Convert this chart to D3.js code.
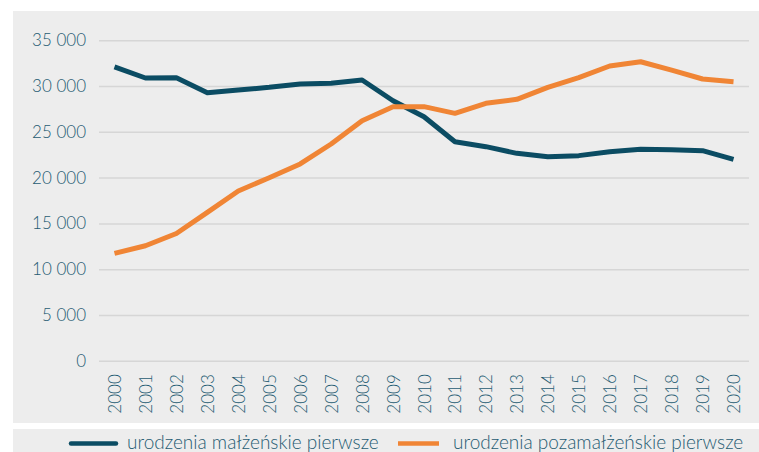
<!DOCTYPE html>
<html><head><meta charset="utf-8">
<script src="https://cdn.jsdelivr.net/npm/d3@7"></script>
<style>
body{margin:0;background:#fff;}
text{font-family:Lato,"Open Sans",sans-serif;font-weight:300;}
</style></head>
<body><svg id="c" width="759" height="452"></svg>
<script>
const years = ["2000","2001","2002","2003","2004","2005","2006","2007","2008","2009","2010","2011","2012","2013","2014","2015","2016","2017","2018","2019","2020"];
const marital = [32100,30880,30920,29280,29570,29860,30230,30300,30660,28400,26650,23920,23380,22650,22290,22400,22830,23090,23050,22940,22000];
const nonMarital = [11730,12560,13900,16200,18540,19990,21490,23670,26220,27750,27750,27020,28120,28550,29860,30920,32190,32660,31750,30770,30480];
const yTicks = [0,5000,10000,15000,20000,25000,30000,35000];
const seriesNames = ["urodzenia małżeńskie pierwsze","urodzenia pozamałżeńskie pierwsze"];
const colors = ["#0b4c63","#f08535"];

const svg = d3.select("#c");
svg.append("rect").attr("x",13).attr("y",11).attr("width",746).attr("height",412).attr("fill","#ededed");
svg.append("rect").attr("x",13).attr("y",429).attr("width",746).attr("height",23).attr("fill","#ededed");

const x = d3.scaleBand().domain(years).range([99,749]);
const y = d3.scaleLinear().domain([0,35000]).range([360.7,40.3]);
const fmt = v => v===0 ? "0" : d3.format(",")(v).replace(/,/g," ");
const textColor = "#1f5b72";

const yAxis = svg.append("g").attr("transform","translate(99,0)")
  .call(d3.axisLeft(y).tickValues(yTicks).tickFormat(fmt).tickSize(-650).tickPadding(13));
yAxis.select(".domain").remove();
yAxis.selectAll("line").attr("stroke","#d6d6d6").attr("stroke-width",1.5);
yAxis.selectAll("text").attr("fill",textColor).style("font-size","17px").style("font-family","Lato").style("font-weight","300");

const xAxis = svg.append("g").attr("transform","translate(0,360.7)")
  .call(d3.axisBottom(x).tickSize(0).tickPadding(0));
xAxis.select(".domain").remove();
xAxis.selectAll("text").attr("fill",textColor).style("font-size","17px").style("font-family","Lato").style("font-weight","300")
  .attr("text-anchor","end").attr("dy",null).attr("y",0)
  .attr("transform","translate(6.5,13.5) rotate(-90)");

const line = d3.line().x((d,i)=>x(years[i])+x.bandwidth()/2).y(d=>y(d));
[marital,nonMarital].forEach((s,i)=>{
  svg.append("path").datum(s).attr("d",line).attr("fill","none")
    .attr("stroke",colors[i]).attr("stroke-width",5).attr("stroke-linejoin","round");
});

const leg = [{x1:71,x2:116,tx:127},{x1:398,x2:439,tx:453}];
leg.forEach((l,i)=>{
  svg.append("line").attr("x1",l.x1).attr("x2",l.x2).attr("y1",443.5).attr("y2",443.5)
    .attr("stroke",colors[i]).attr("stroke-width",4.5).attr("stroke-linecap",i===0?"round":"butt");
  svg.append("text").attr("x",l.tx).attr("y",448.5).attr("fill",textColor)
    .style("font-size","19px").text(seriesNames[i]);
});
</script></body></html>
